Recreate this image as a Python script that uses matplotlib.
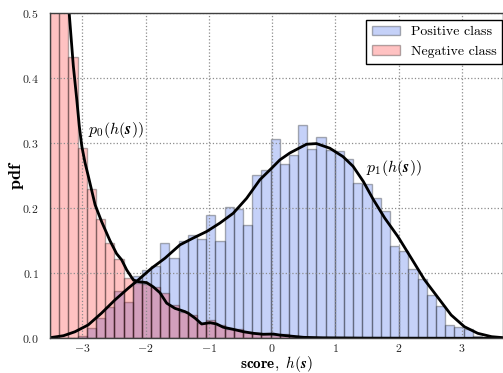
import numpy as np
import matplotlib
matplotlib.use('Agg')
import matplotlib.pyplot as plt

plt.rcParams['font.family'] = 'serif'
plt.rcParams['font.serif'] = ['cmr10']
plt.rcParams['mathtext.fontset'] = 'cm'
plt.rcParams['axes.formatter.use_mathtext'] = True
plt.rcParams['axes.unicode_minus'] = True

# histogram bins shared by both classes
x_min = -3.513
bin_w = 0.1453
n_bins = 50

pos_heights = [0, 0, 0.001, 0.003, 0.016, 0.031, 0.048, 0.073, 0.055, 0.095,
               0.105, 0.111, 0.147, 0.123, 0.150, 0.158, 0.152, 0.190, 0.150, 0.201,
               0.198, 0.174, 0.251, 0.258, 0.306, 0.267, 0.281, 0.327, 0.291, 0.309,
               0.289, 0.287, 0.275, 0.239, 0.237, 0.215, 0.196, 0.141, 0.134, 0.107,
               0.091, 0.067, 0.049, 0.020, 0.018, 0.015, 0.004, 0.001, 0, 0]
neg_heights = [0.82, 0.62, 0.432, 0.292, 0.229, 0.183, 0.146, 0.122, 0.092, 0.085,
               0.083, 0.079, 0.069, 0.051, 0.041, 0.036, 0.023, 0.028, 0.0205, 0.015,
               0.015, 0.010, 0.0077, 0.007, 0.005, 0.007, 0.004, 0.002, 0.001, 0,
               0, 0, 0, 0, 0, 0, 0, 0, 0, 0,
               0, 0, 0, 0, 0, 0, 0, 0, 0, 0]

# kernel density estimates
p0_x = [-3.51, -3.40, -3.30, -3.21, -3.144, -3.09, -3.05, -3.01, -2.96, -2.907,
        -2.80, -2.696, -2.565, -2.46, -2.38, -2.30, -2.196, -2.117, -1.985, -1.88,
        -1.775, -1.668, -1.537, -1.38, -1.327, -1.22, -1.115, -0.984, -0.878, -0.774,
        -0.616, -0.458, -0.30, -0.142, 0.016, 0.12, 0.28, 0.50, 0.8, 1.5, 3.65]
p0_y = [0.87, 0.73, 0.61, 0.50, 0.418, 0.367, 0.326, 0.295, 0.270, 0.249,
        0.205, 0.179, 0.150, 0.130, 0.1205, 0.105, 0.0897, 0.087, 0.0855, 0.079,
        0.070, 0.054, 0.046, 0.041, 0.0385, 0.031, 0.022, 0.024, 0.022, 0.017,
        0.0138, 0.0102, 0.0077, 0.0062, 0.0066, 0.005, 0.0035, 0.0015, 0.0008, 0.0003, 0.0]

p1_x = [-3.51, -3.30, -3.12, -2.91, -2.70, -2.485, -2.275, -2.117, -1.906, -1.695,
        -1.458, -1.248, -1.036, -0.826, -0.616, -0.404, -0.194, 0.0, 0.122, 0.28,
        0.543, 0.70, 0.91, 1.12, 1.28, 1.44, 1.60, 1.78, 1.99, 2.20,
        2.41, 2.63, 2.83, 3.04, 3.25, 3.47, 3.65]
p1_y = [0.001, 0.004, 0.010, 0.0205, 0.0385, 0.059, 0.077, 0.0897, 0.1077, 0.123,
        0.1435, 0.154, 0.164, 0.177, 0.192, 0.215, 0.2435, 0.262, 0.274, 0.2846,
        0.298, 0.299, 0.292, 0.279, 0.264, 0.241, 0.213, 0.1846, 0.156, 0.123,
        0.0897, 0.0615, 0.0358, 0.0178, 0.0077, 0.0025, 0.001]

edges = x_min + bin_w * np.arange(n_bins + 1)

fig = plt.figure(figsize=(5.03, 3.73), dpi=100)
ax = fig.add_axes([0.0994, 0.093, 0.9006, 0.873])

ax.bar(edges[:-1], pos_heights, width=bin_w, align='edge',
       facecolor=(0.25, 0.41, 0.92, 0.3), edgecolor=(0, 0, 0, 0.3), lw=1,
       label='Positive class')
ax.bar(edges[:-1], neg_heights, width=bin_w, align='edge',
       facecolor=(1.0, 0.0, 0.0, 0.24), edgecolor=(0, 0, 0, 0.3), lw=1,
       label='Negative class')

ax.plot(p1_x, p1_y, color='k', lw=2)
ax.plot(p0_x, p0_y, color='k', lw=2)

ax.text(-2.91, 0.32, r'$p_0(h(\boldsymbol{s}))$', fontsize=11.5, va='center')
ax.text(1.48, 0.262, r'$p_1(h(\boldsymbol{s}))$', fontsize=11.5, va='center')

ax.set_xlim(x_min, 3.65)
ax.set_ylim(0, 0.5)
ax.set_xticks([-3, -2, -1, 0, 1, 2, 3])
ax.set_yticks([0.0, 0.1, 0.2, 0.3, 0.4, 0.5])
ax.tick_params(length=0, labelsize=8.5, labelcolor='0.15')
ax.tick_params(axis='x', pad=3)
ax.tick_params(axis='y', pad=8)
ax.grid(True, linestyle=':', color='0.55', lw=0.9)
for sp in ax.spines.values():
    sp.set_color('0.25')
    sp.set_linewidth(1)

ax.set_xlabel(r'$\mathbf{score,}\ h(\boldsymbol{s})$', fontsize=11, va='center')
ax.set_ylabel(r'$\mathbf{pdf}$', fontsize=13, va='center')
ax.xaxis.set_label_coords(0.5, -0.079)
ax.yaxis.set_label_coords(-0.073, 0.5)

leg = ax.legend(loc='upper right', bbox_to_anchor=(0.998, 0.977), borderaxespad=0,
                fontsize=10, fancybox=False, framealpha=1, handlelength=2.0)
leg.get_frame().set_edgecolor('k')
leg.get_frame().set_linewidth(1)

fig.savefig('out.png', dpi=100)
